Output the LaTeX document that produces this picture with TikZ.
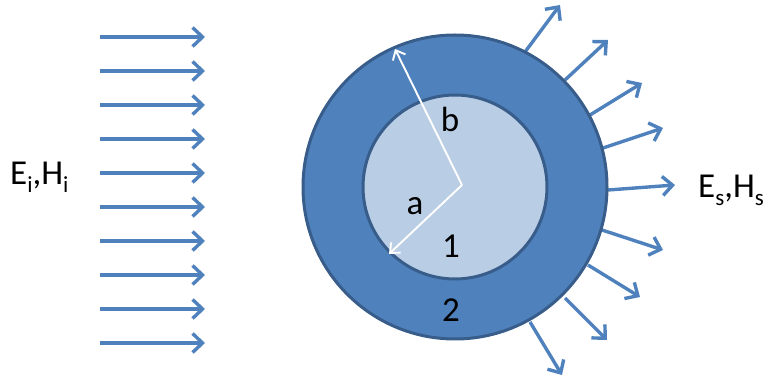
\documentclass[tikz,border=0pt]{standalone}
\usepackage{fontspec}
\setmainfont{Carlito}
\usetikzlibrary{arrows.meta}
\definecolor{ringblue}{HTML}{4F81BD}
\definecolor{edgeblue}{HTML}{385D8A}
\definecolor{coreblue}{HTML}{B9CDE5}
\newcommand{\mysub}[1]{\raisebox{-0.22em}{\fontsize{23}{25}\selectfont #1}}
\tikzset{
  wave/.style={draw=ringblue, line width=3.4pt, -{Straight Barb[length=10pt,width=19pt,line width=3.4pt]}},
  radius arrow/.style={draw=white, line width=1.9pt, -{Straight Barb[length=8pt,width=14pt,line width=1.9pt]}},
  lbl/.style={font=\fontsize{35}{40}\selectfont, inner sep=0pt, anchor=base},
}
\begin{document}
\begin{tikzpicture}[x=1pt,y=-1pt]
\useasboundingbox (0,0) rectangle (772,379);
% incident waves
\foreach \i in {0,...,9}{
  \coordinate (s\i) at (100,{37+34*\i});
  \coordinate (t\i) at (205,{37+34*\i});
  \draw[wave] (s\i) -- (t\i);
}
\node[lbl, anchor=base west] (inc) at (10,185) {E\mysub{i},H\mysub{i}};
% scattered waves
\foreach \a/\b/\c/\d [count=\k] in {525/52/560/5, 565/80/608/40, 590/115/642/83, 603/148/663/128, 608/190/675/185, 602/230/663/250, 588/265/640/297, 565/298/607/340, 530/322/562/375}{
  \coordinate (p\k) at (\a,\b);
  \coordinate (q\k) at (\c,\d);
  \draw[wave] (p\k) -- (q\k);
}
\node[lbl, anchor=base west] (sca) at (698,198) {E\mysub{s},H\mysub{s}};
% sphere
\coordinate (c) at (455,187);
\draw[fill=ringblue, draw=edgeblue, line width=3pt] (c) circle[radius=152];
\draw[fill=coreblue, draw=edgeblue, line width=3pt] (c) circle[radius=92];
% radii
\coordinate (v) at (462,185);
\coordinate (bend) at (395,49);
\coordinate (aend) at (389,254);
\draw[radius arrow] (v) -- (bend);
\draw[radius arrow] (v) -- (aend);
\node[lbl] (lb) at (450,132) {b};
\node[lbl] (la) at (415,215) {a};
\node[lbl] (l1) at (451,258) {1};
\node[lbl] (l2) at (451,322) {2};
\end{tikzpicture}
\end{document}
